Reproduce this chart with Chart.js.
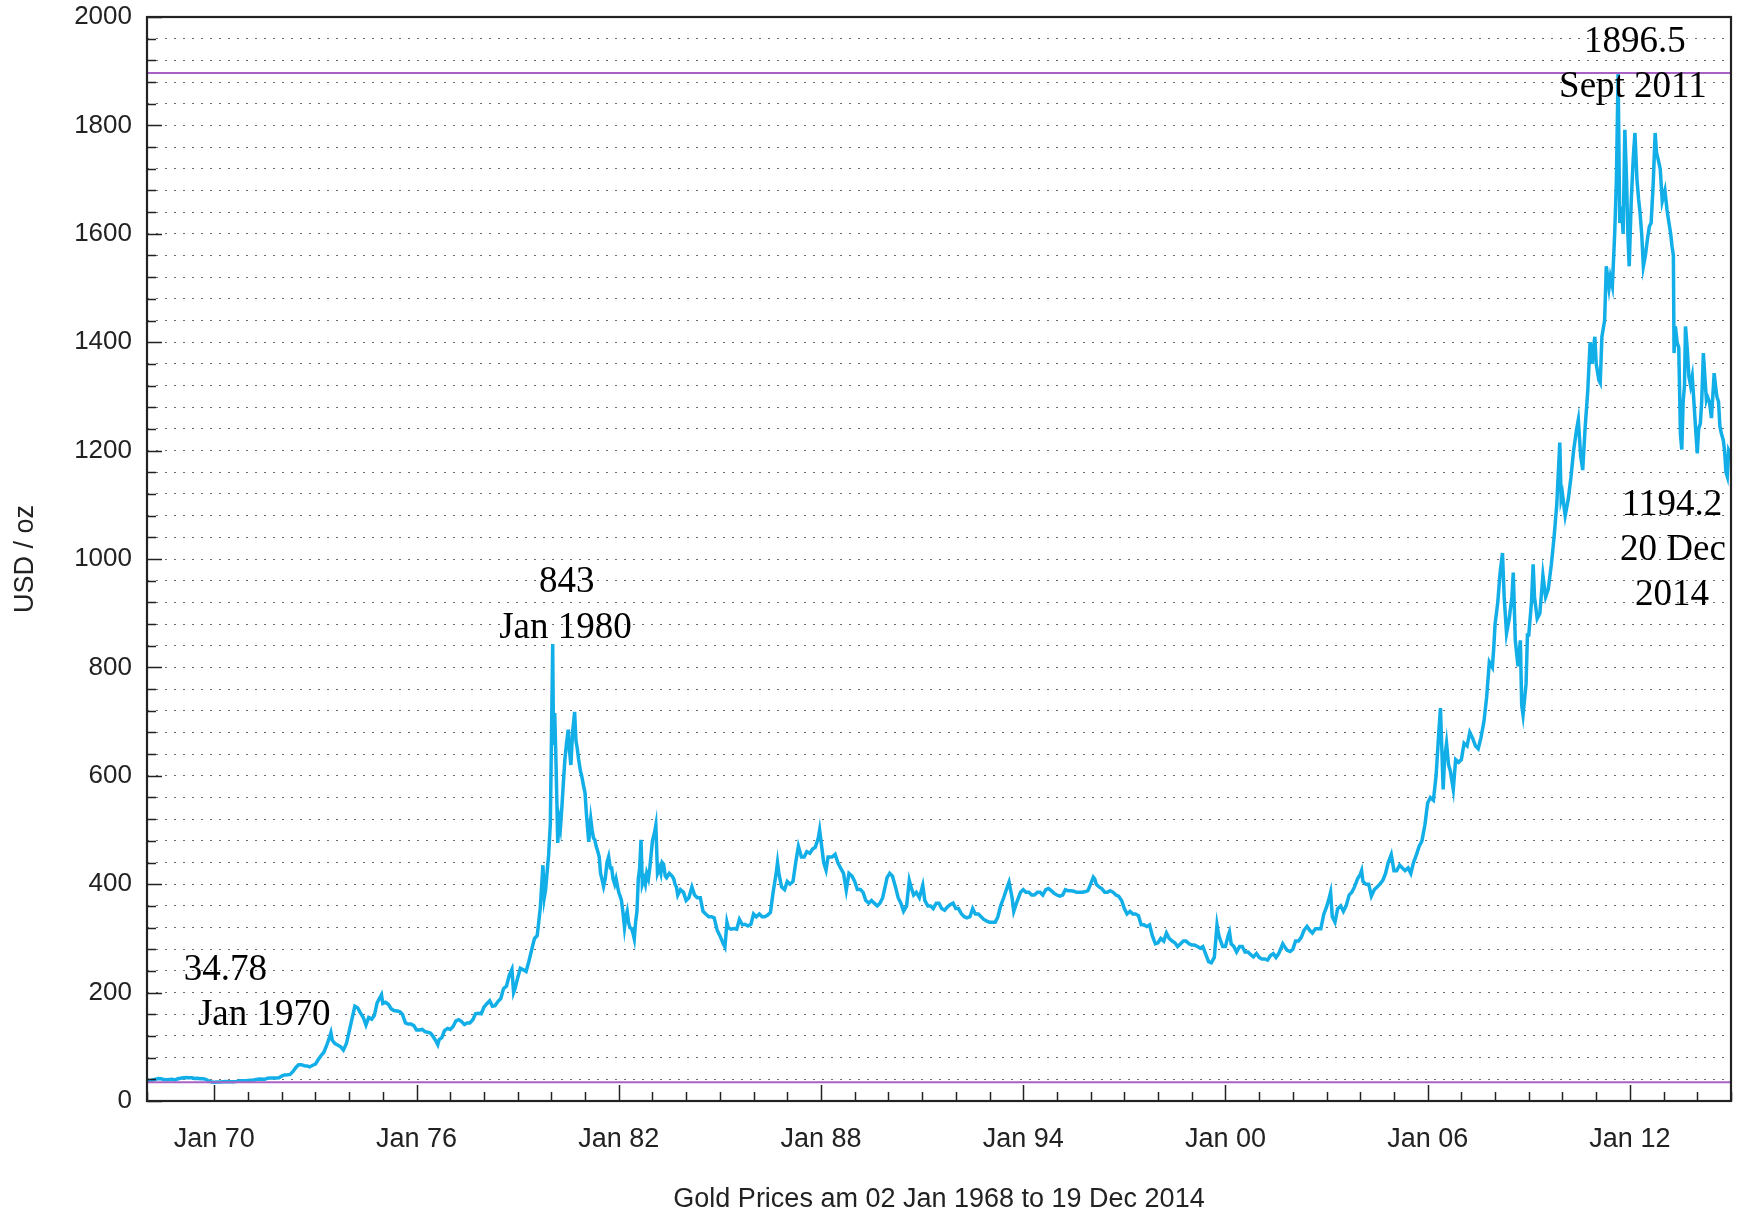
<!DOCTYPE html>
<html>
<head>
<meta charset="utf-8">
<script src="https://cdn.jsdelivr.net/npm/chart.js@4.4.0/dist/chart.umd.min.js"></script>
<style>
  html, body { margin: 0; padding: 0; background: #fff; }
</style>
</head>
<body>
<canvas id="goldChart" width="1743" height="1216"></canvas>
<script>
// Gold price (USD/oz), x = decimal year
const dates = [
  1968.00, 1968.08, 1968.17, 1968.25, 1968.33, 1968.42, 1968.50, 1968.58, 1968.67, 1968.75, 1968.83, 1968.92,
  1969.00, 1969.08, 1969.17, 1969.25, 1969.33, 1969.42, 1969.50, 1969.58, 1969.67, 1969.75, 1969.83, 1969.92,
  1970.00, 1970.08, 1970.17, 1970.25, 1970.33, 1970.42, 1970.50, 1970.58, 1970.67, 1970.75, 1970.83, 1970.92,
  1971.00, 1971.17, 1971.33, 1971.50, 1971.58, 1971.67, 1971.83, 1971.92,
  1972.00, 1972.08, 1972.17, 1972.25, 1972.33, 1972.42, 1972.50, 1972.58, 1972.67, 1972.75, 1972.83, 1972.92,
  1973.00, 1973.08, 1973.17, 1973.25, 1973.33, 1973.42, 1973.46, 1973.50, 1973.58, 1973.67, 1973.75, 1973.83, 1973.92,
  1974.00, 1974.08, 1974.17, 1974.25, 1974.33, 1974.42, 1974.50, 1974.58, 1974.67, 1974.75, 1974.83, 1974.96,
  1975.00, 1975.08, 1975.17, 1975.25, 1975.33, 1975.42, 1975.50, 1975.58, 1975.67, 1975.75, 1975.83, 1975.92,
  1976.00, 1976.08, 1976.17, 1976.25, 1976.33, 1976.42, 1976.50, 1976.58, 1976.63, 1976.67, 1976.75, 1976.83, 1976.92,
  1977.00, 1977.08, 1977.17, 1977.25, 1977.33, 1977.42, 1977.50, 1977.58, 1977.67, 1977.75, 1977.83, 1977.92,
  1978.00, 1978.08, 1978.17, 1978.25, 1978.33, 1978.42, 1978.50, 1978.58, 1978.67, 1978.75, 1978.83, 1978.88, 1978.92,
  1979.00, 1979.08, 1979.17, 1979.25, 1979.33, 1979.42, 1979.50, 1979.58, 1979.67, 1979.75, 1979.79, 1979.83, 1979.92, 1979.97,
  1980.04, 1980.06, 1980.08, 1980.10, 1980.14, 1980.19, 1980.23, 1980.27, 1980.31, 1980.36, 1980.40, 1980.45, 1980.50, 1980.54, 1980.58, 1980.63, 1980.69, 1980.73, 1980.77, 1980.81, 1980.86, 1980.90, 1980.96,
  1981.00, 1981.04, 1981.08, 1981.11, 1981.17, 1981.21, 1981.25, 1981.29, 1981.33, 1981.38, 1981.42, 1981.46, 1981.50, 1981.55, 1981.60, 1981.65, 1981.70, 1981.75, 1981.79, 1981.83, 1981.88, 1981.92, 1981.96,
  1982.00, 1982.04, 1982.08, 1982.13, 1982.17, 1982.21, 1982.25, 1982.29, 1982.33, 1982.38, 1982.42, 1982.46, 1982.50, 1982.54, 1982.58, 1982.62, 1982.66, 1982.70, 1982.75, 1982.79, 1982.83, 1982.88, 1982.92, 1982.96,
  1983.00, 1983.06, 1983.10, 1983.15, 1983.21, 1983.25, 1983.29, 1983.33, 1983.38, 1983.42, 1983.50, 1983.58, 1983.63, 1983.67, 1983.71, 1983.75, 1983.83, 1983.92,
  1984.00, 1984.08, 1984.17, 1984.25, 1984.33, 1984.42, 1984.50, 1984.58, 1984.67, 1984.75, 1984.83, 1984.92,
  1985.00, 1985.10, 1985.15, 1985.21, 1985.25, 1985.33, 1985.42, 1985.50, 1985.58, 1985.67, 1985.75, 1985.83, 1985.92,
  1986.00, 1986.08, 1986.17, 1986.25, 1986.33, 1986.42, 1986.50, 1986.58, 1986.67, 1986.71, 1986.75, 1986.83, 1986.92,
  1987.00, 1987.08, 1987.17, 1987.25, 1987.33, 1987.42, 1987.50, 1987.58, 1987.67, 1987.75, 1987.83, 1987.92, 1987.96,
  1988.00, 1988.08, 1988.15, 1988.21, 1988.25, 1988.33, 1988.42, 1988.50, 1988.58, 1988.67, 1988.75, 1988.83, 1988.92,
  1989.00, 1989.08, 1989.17, 1989.25, 1989.33, 1989.42, 1989.50, 1989.58, 1989.67, 1989.75, 1989.83, 1989.92, 1989.96,
  1990.04, 1990.12, 1990.21, 1990.29, 1990.37, 1990.45, 1990.54, 1990.62, 1990.67, 1990.75, 1990.83, 1990.92,
  1991.02, 1991.08, 1991.17, 1991.25, 1991.33, 1991.42, 1991.50, 1991.58, 1991.67, 1991.75, 1991.83, 1991.92,
  1992.00, 1992.08, 1992.17, 1992.25, 1992.33, 1992.42, 1992.50, 1992.58, 1992.67, 1992.75, 1992.83, 1992.92,
  1993.00, 1993.08, 1993.17, 1993.25, 1993.33, 1993.42, 1993.50, 1993.58, 1993.67, 1993.72, 1993.80, 1993.92,
  1994.00, 1994.08, 1994.17, 1994.25, 1994.33, 1994.42, 1994.50, 1994.58, 1994.67, 1994.75, 1994.83, 1994.92,
  1995.00, 1995.08, 1995.17, 1995.25, 1995.33, 1995.42, 1995.50, 1995.58, 1995.67, 1995.75, 1995.83, 1995.92,
  1996.00, 1996.08, 1996.12, 1996.17, 1996.25, 1996.33, 1996.42, 1996.50, 1996.58, 1996.67, 1996.75, 1996.83, 1996.92,
  1997.00, 1997.08, 1997.17, 1997.25, 1997.33, 1997.42, 1997.50, 1997.58, 1997.67, 1997.75, 1997.83, 1997.92,
  1998.00, 1998.08, 1998.17, 1998.25, 1998.33, 1998.42, 1998.50, 1998.58, 1998.67, 1998.75, 1998.83, 1998.92,
  1999.00, 1999.08, 1999.17, 1999.25, 1999.33, 1999.42, 1999.50, 1999.58, 1999.67, 1999.75, 1999.79, 1999.83, 1999.92,
  2000.00, 2000.08, 2000.12, 2000.17, 2000.25, 2000.33, 2000.42, 2000.50, 2000.58, 2000.67, 2000.75, 2000.83, 2000.92,
  2001.00, 2001.08, 2001.17, 2001.25, 2001.33, 2001.42, 2001.50, 2001.58, 2001.70, 2001.75, 2001.83, 2001.92,
  2002.00, 2002.08, 2002.17, 2002.25, 2002.33, 2002.42, 2002.50, 2002.58, 2002.67, 2002.75, 2002.83, 2002.92,
  2003.00, 2003.08, 2003.12, 2003.17, 2003.25, 2003.33, 2003.42, 2003.50, 2003.58, 2003.67, 2003.75, 2003.83, 2003.92,
  2004.00, 2004.04, 2004.08, 2004.17, 2004.25, 2004.33, 2004.42, 2004.50, 2004.58, 2004.67, 2004.75, 2004.83, 2004.92,
  2005.00, 2005.08, 2005.17, 2005.25, 2005.33, 2005.42, 2005.50, 2005.58, 2005.67, 2005.75, 2005.83, 2005.92,
  2006.00, 2006.08, 2006.17, 2006.25, 2006.33, 2006.38, 2006.42, 2006.46, 2006.50, 2006.56, 2006.62, 2006.67, 2006.76, 2006.83, 2006.92,
  2007.00, 2007.08, 2007.17, 2007.25, 2007.33, 2007.42, 2007.50, 2007.58, 2007.67, 2007.75, 2007.83, 2007.92, 2007.96,
  2008.00, 2008.08, 2008.15, 2008.22, 2008.27, 2008.34, 2008.42, 2008.50, 2008.54, 2008.60, 2008.68, 2008.75, 2008.79, 2008.83, 2008.92, 2008.96,
  2009.00, 2009.08, 2009.13, 2009.17, 2009.25, 2009.33, 2009.42, 2009.50, 2009.58, 2009.67, 2009.75, 2009.83, 2009.92, 2009.96,
  2010.00, 2010.08, 2010.17, 2010.25, 2010.33, 2010.42, 2010.47, 2010.54, 2010.60, 2010.67, 2010.75, 2010.82, 2010.88, 2010.92, 2010.96,
  2011.00, 2011.08, 2011.12, 2011.17, 2011.25, 2011.30, 2011.38, 2011.42, 2011.48, 2011.55, 2011.60, 2011.65, 2011.70, 2011.75, 2011.80, 2011.85, 2011.90, 2011.94, 2011.98,
  2012.04, 2012.10, 2012.15, 2012.21, 2012.26, 2012.30, 2012.35, 2012.40, 2012.46, 2012.52, 2012.58, 2012.63, 2012.69, 2012.75, 2012.79, 2012.84, 2012.90, 2012.96,
  2013.04, 2013.10, 2013.16, 2013.21, 2013.25, 2013.29, 2013.31, 2013.35, 2013.40, 2013.45, 2013.50, 2013.54, 2013.58, 2013.62, 2013.65, 2013.70, 2013.75, 2013.80, 2013.85, 2013.90, 2013.95, 2014.00,
  2014.04, 2014.09, 2014.13, 2014.18, 2014.22, 2014.27, 2014.30, 2014.36, 2014.42, 2014.47, 2014.50, 2014.54, 2014.58, 2014.63, 2014.67, 2014.72, 2014.77, 2014.81, 2014.85, 2014.89, 2014.93, 2014.97
];
const prices = [
  40, 37, 39, 40, 41.5, 41, 39.5, 39, 39.5, 40, 39, 41,
  42, 43, 43.5, 43, 43, 41.5, 42, 41, 41, 40, 37, 35,
  34.78, 35, 35.2, 35.7, 36, 35.5, 35.3, 35.4, 36.2, 37.5, 37.4, 37.4,
  38, 38.8, 40.5, 40, 42, 42.5, 42.5, 43,
  46, 48, 48.4, 49, 54, 62, 67, 67, 65, 64.8, 62.9, 66,
  68, 76, 84, 90, 102, 118, 126, 112, 106, 103, 100, 94, 106,
  128, 150, 175, 172, 163, 154, 140, 154, 151, 158, 181, 196,
  180, 182, 178, 170, 167, 166, 165, 160, 144, 142, 142, 139,
  131, 131, 132, 128, 127, 125, 118, 110, 104, 113, 117, 130, 134,
  132, 137, 148, 150, 147, 141, 144, 144, 150, 161, 162, 161,
  173, 179, 185, 175, 176, 184, 189, 207, 212, 232, 243, 200, 207,
  227, 245, 242, 239, 257, 280, 300, 305, 355, 435, 375, 390, 455, 512,
  843, 690, 660, 716, 620, 476, 520, 505, 540, 590, 629, 660, 685, 645, 620, 680, 718, 665, 650, 630, 610, 600, 580,
  568, 530, 500, 478, 520, 500, 485, 482, 470, 460, 450, 420, 410, 396, 410, 440, 451, 430, 430, 410, 400, 410, 397,
  385, 378, 370, 345, 320, 340, 350, 330, 320, 318, 310, 299, 330, 350, 410, 430, 482, 400, 410, 400, 420, 410, 430, 455,
  480, 495, 509, 420, 430, 420, 440, 437, 415, 412, 420, 415, 410, 400, 395, 380, 390, 385,
  370, 375, 395, 380, 375, 375, 350, 345, 340, 340, 338, 315,
  305, 290, 284, 330, 320, 317, 318, 317, 335, 325, 326, 323, 326,
  345, 340, 345, 340, 340, 343, 348, 385, 420, 440, 420, 395, 390,
  405, 400, 405, 440, 470, 450, 450, 460, 457, 465, 468, 485, 500,
  480, 440, 426, 450, 450, 450, 455, 440, 430, 420, 389, 420, 415,
  405, 390, 390, 385, 370, 365, 370, 365, 360, 365, 375, 400, 412,
  420, 415, 395, 375, 365, 350, 360, 407, 395, 380, 385, 375,
  398, 370, 360, 360, 355, 365, 365, 355, 352, 358, 362, 365,
  355, 355, 345, 340, 338, 340, 355, 345, 345, 340, 335, 332,
  330, 330, 330, 340, 360, 375, 390, 404, 375, 350, 365, 385,
  390, 385, 385, 380, 380, 385, 385, 380, 390, 392, 388, 383,
  380, 378, 380, 390, 388, 388, 387, 385, 385, 385, 386, 388,
  400, 413, 410, 400, 395, 392, 385, 385, 388, 385, 380, 378, 370,
  355, 345, 350, 345, 345, 342, 325, 325, 322, 325, 305, 290,
  292, 300, 295, 310, 300, 295, 292, 285, 290, 295, 295, 290,
  288, 288, 285, 282, 285, 270, 257, 255, 265, 325, 310, 300, 285,
  285, 305, 312, 290, 285, 275, 285, 285, 275, 275, 270, 266, 272,
  265, 262, 262, 260, 268, 272, 265, 272, 290, 285, 278, 276,
  280, 295, 295, 302, 315, 322, 315, 310, 318, 318, 318, 345,
  358, 375, 385, 340, 330, 355, 360, 350, 360, 380, 385, 395, 410,
  418, 425, 405, 400, 400, 378, 390, 395, 400, 407, 420, 440, 455,
  425, 425, 435, 430, 425, 430, 420, 440, 455, 470, 480, 510,
  550, 560, 555, 600, 680, 725, 650, 575, 630, 660, 620, 610, 575, 630, 625,
  630, 660, 655, 680, 670, 655, 650, 670, 700, 745, 810, 800, 835,
  880, 920, 975, 1011, 930, 863, 890, 930, 975, 850, 802, 850, 730, 712, 770, 860,
  860, 920, 990, 930, 890, 900, 970, 930, 945, 990, 1040, 1100, 1215, 1110,
  1120, 1080, 1110, 1150, 1200, 1240, 1257, 1190, 1164, 1240, 1310, 1400, 1360, 1390, 1410,
  1360, 1330, 1325, 1410, 1440, 1540, 1500, 1520, 1503, 1602, 1700, 1896.5, 1620, 1650, 1600, 1792, 1700, 1600, 1540,
  1660, 1740, 1786, 1700, 1663, 1640, 1600, 1540, 1560, 1590, 1614, 1620, 1690, 1786, 1750, 1737, 1720, 1660,
  1680, 1645, 1620, 1600, 1577, 1560, 1380, 1429, 1400, 1390, 1230, 1202, 1290, 1320, 1429, 1390, 1337, 1320, 1337, 1290, 1240, 1195,
  1240, 1250, 1290, 1380, 1340, 1294, 1300, 1290, 1260, 1310, 1343, 1320, 1300, 1290, 1245, 1230, 1220, 1200, 1160, 1152, 1200, 1194.2
];

// Reference lines: all-time high and Jan 1970 low
const highLine = 1896.5;
const lowLine = 34.78;

// Axis ticks
const yLabelStep = 200;
const yMinorStep = 40;
const xFirstLabelYear = 1970;
const xLabelEvery = 6;

// Annotations: text, x (year), y (USD at baseline)
const noteText = ['1896.5', 'Sept 2011', '843', 'Jan 1980', '34.78', 'Jan 1970', '1194.2', '20 Dec', '2014'];
const noteYear = [2012.15, 2012.09, 1980.46, 1980.42, 1970.33, 1971.48, 2013.25, 2013.28, 2013.25];
const noteValue = [1936, 1853, 939, 855, 223, 140, 1082, 998, 915];

const lineData = dates.map((d, i) => ({ x: d, y: prices[i] }));

// frame, inward tick marks and annotations
const gnuplotLook = {
  id: 'gnuplotLook',
  afterDraw(chart) {
    const ctx = chart.ctx;
    const area = chart.chartArea;
    const xs = chart.scales.x;
    const ys = chart.scales.y;
    ctx.save();
    ctx.strokeStyle = '#222';
    ctx.lineWidth = 1.5;
    ctx.beginPath();
    xs.ticks.forEach(t => {
      const px = Math.round(xs.getPixelForValue(t.value)) + 0.5;
      const len = (t.value - xFirstLabelYear) % xLabelEvery === 0 ? 16 : 9;
      ctx.moveTo(px, area.bottom);
      ctx.lineTo(px, area.bottom - len);
    });
    ys.ticks.forEach(t => {
      const py = Math.round(ys.getPixelForValue(t.value)) + 0.5;
      const len = t.value % yLabelStep === 0 ? 15 : 9;
      ctx.moveTo(area.left, py);
      ctx.lineTo(area.left + len, py);
    });
    ctx.stroke();
    ctx.lineWidth = 2.2;
    ctx.strokeRect(area.left, area.top, area.right - area.left, area.bottom - area.top);

    ctx.fillStyle = '#000';
    ctx.font = '37px "Liberation Serif", serif';
    ctx.textAlign = 'center';
    ctx.textBaseline = 'alphabetic';
    noteText.forEach((txt, i) => {
      ctx.fillText(txt, xs.getPixelForValue(noteYear[i]), ys.getPixelForValue(noteValue[i]));
    });
    ctx.restore();
  }
};

new Chart(document.getElementById('goldChart'), {
  type: 'line',
  data: {
    datasets: [
      {
        label: 'high',
        data: [{ x: 1968.003, y: highLine }, { x: 2015.0, y: highLine }],
        borderColor: '#a862c4',
        borderWidth: 2,
        pointRadius: 0
      },
      {
        label: 'low',
        data: [{ x: 1968.003, y: lowLine }, { x: 2015.0, y: lowLine }],
        borderColor: '#a862c4',
        borderWidth: 2,
        pointRadius: 0
      },
      {
        label: 'Gold',
        data: lineData,
        borderColor: '#12aee8',
        borderWidth: 3.5,
        pointRadius: 0,
        tension: 0
      }
    ]
  },
  options: {
    responsive: false,
    animation: false,
    layout: { padding: { left: 0, right: 12, top: 17, bottom: 0 } },
    plugins: {
      legend: { display: false },
      tooltip: { enabled: false }
    },
    scales: {
      x: {
        type: 'linear',
        min: 1968.003,
        max: 2015.0,
        afterFit: scale => {
          scale.height = 115;
          scale.paddingLeft = 0;
          scale.paddingRight = 0;
        },
        grid: { display: false, drawTicks: false },
        border: { display: false },
        ticks: {
          stepSize: 1,
          autoSkip: false,
          maxRotation: 0,
          padding: 22,
          color: '#222',
          font: { family: '"Liberation Sans", Arial, sans-serif', size: 27 },
          callback: v => (v - xFirstLabelYear) % xLabelEvery === 0
            ? 'Jan ' + String(v % 100).padStart(2, '0') : ''
        },
        title: {
          display: true,
          text: 'Gold Prices am 02 Jan 1968 to 19 Dec 2014',
          color: '#222',
          font: { family: '"Liberation Sans", Arial, sans-serif', size: 27 },
          padding: { top: 0, bottom: 0 }
        }
      },
      y: {
        min: 0,
        max: 2000,
        afterFit: scale => {
          scale.width = 147;
          scale.paddingTop = 0;
          scale.paddingBottom = 0;
        },
        grid: { color: '#6e6e6e', lineWidth: 1, drawTicks: false },
        border: { display: false, dash: [2, 7] },
        ticks: {
          stepSize: yMinorStep,
          autoSkip: false,
          padding: 15,
          color: '#222',
          font: { family: '"Liberation Sans", Arial, sans-serif', size: 26 },
          callback: v => v % yLabelStep === 0 ? v : ''
        },
        title: {
          display: true,
          text: 'USD / oz',
          color: '#222',
          font: { family: '"Liberation Sans", Arial, sans-serif', size: 27 },
          padding: { top: 9, bottom: 0 }
        }
      }
    }
  },
  plugins: [gnuplotLook]
});
</script>
</body>
</html>
